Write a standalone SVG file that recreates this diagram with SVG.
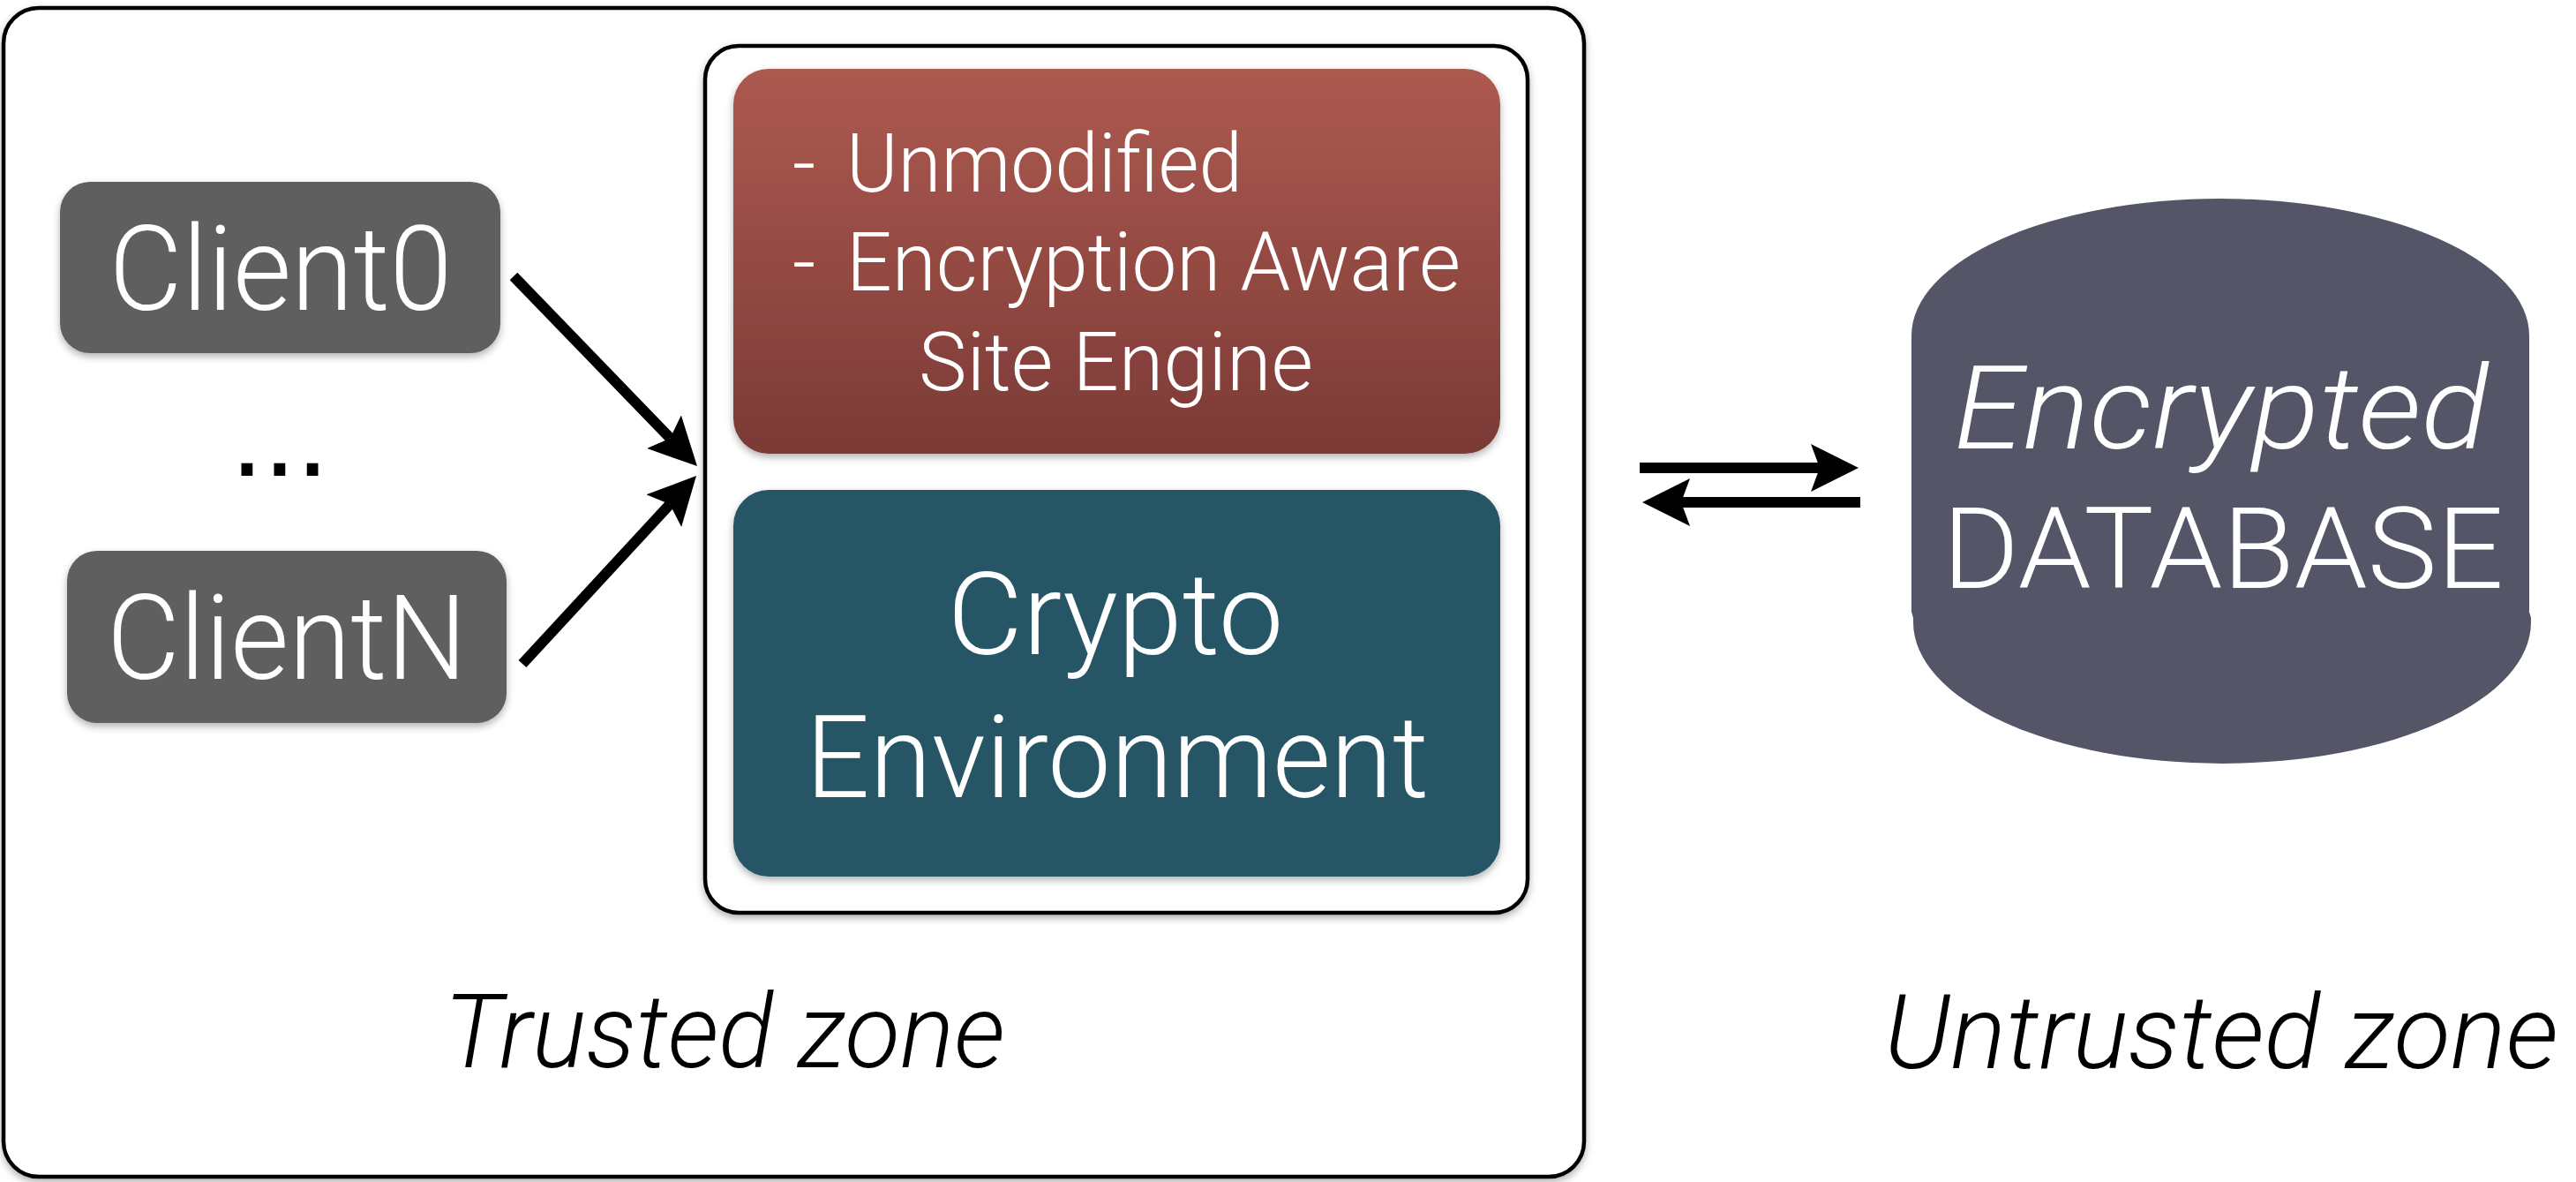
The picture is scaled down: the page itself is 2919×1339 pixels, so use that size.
<svg xmlns="http://www.w3.org/2000/svg" width="2919" height="1339" viewBox="0 0 2919 1339">
<style>
.t{font-family:Roboto,"Liberation Sans","DejaVu Sans",sans-serif;font-weight:300;}
.w{fill:#ffffff;}
.k{fill:#000000;}
.it{font-style:italic;}
.frame{fill:#ffffff;stroke:#000000;stroke-width:4.5;}
.client{fill:#5e5e5e;}
.conn{stroke:#000000;stroke-width:12;fill:none;marker-end:url(#ah);}
</style>
<defs>
<linearGradient id="redg" x1="0" y1="0" x2="0" y2="1">
<stop offset="0" stop-color="#ad5a50"/>
<stop offset="1" stop-color="#7b3a36"/>
</linearGradient>
<filter id="sh" x="-5%" y="-5%" width="110%" height="115%">
<feDropShadow dx="0" dy="4" stdDeviation="4" flood-color="#000000" flood-opacity="0.3"/>
</filter>
<marker id="ah" viewBox="0 -27 54 54" markerWidth="54" markerHeight="54" markerUnits="userSpaceOnUse" refX="10" refY="0" orient="auto">
<path d="M0,-27 L54,0 L0,27 L10,0 Z" fill="#000000"/>
</marker>
</defs>
<rect width="2919" height="1339" fill="#ffffff"/>

<g id="trusted-zone">
<rect class="frame" x="4" y="9" width="1791" height="1324" rx="40" ry="40" filter="url(#sh)"/>
<text class="t k it" x="821" y="1209" font-size="117" text-anchor="middle" textLength="636" lengthAdjust="spacingAndGlyphs">Trusted zone</text>
</g>

<g id="server">
<rect class="frame" x="799" y="52" width="932" height="982" rx="38" ry="38" filter="url(#sh)"/>
</g>

<g id="site-engine">
<rect x="831" y="78" width="869" height="436" rx="40" ry="40" fill="url(#redg)" filter="url(#sh)"/>
<text class="t w" font-size="92" y="217"><tspan x="898">- </tspan><tspan x="959" textLength="449" lengthAdjust="spacingAndGlyphs">Unmodified</tspan></text>
<text class="t w" font-size="92" y="329"><tspan x="898">- </tspan><tspan x="959" textLength="696" lengthAdjust="spacingAndGlyphs">Encryption Aware</tspan></text>
<text class="t w" font-size="92" x="1041" y="442" textLength="447" lengthAdjust="spacingAndGlyphs">Site Engine</text>
</g>

<g id="crypto-environment">
<rect x="831" y="555" width="869" height="438" rx="40" ry="40" fill="#285766" filter="url(#sh)"/>
<text class="t w" font-size="130" x="1264" y="741" text-anchor="middle" textLength="381" lengthAdjust="spacingAndGlyphs">Crypto</text>
<text class="t w" font-size="130" x="1266" y="903" text-anchor="middle" textLength="706" lengthAdjust="spacingAndGlyphs">Environment</text>
</g>

<g id="client0">
<rect class="client" x="68" y="206" width="499" height="194" rx="34" ry="34" filter="url(#sh)"/>
<text class="t w" font-size="134" x="318" y="351" text-anchor="middle" textLength="389" lengthAdjust="spacingAndGlyphs">Client0</text>
</g>

<g id="ellipsis">
<text x="317" y="539" font-family="'Liberation Sans',Arial,sans-serif" font-size="134" fill="#000000" text-anchor="middle">...</text>
</g>

<g id="clientN">
<rect class="client" x="76" y="624" width="498" height="195" rx="34" ry="34" filter="url(#sh)"/>
<text class="t w" font-size="134" x="325" y="769" text-anchor="middle" textLength="408" lengthAdjust="spacingAndGlyphs">ClientN</text>
</g>

<g id="database">
<path d="M2166,380 A350,155 0 0 1 2866,380 L2866,693 L2868,700 L2868,705 A350,160 0 0 1 2168,705 L2168,700 L2166,693 Z" fill="#555568"/>
<text class="t w it" font-size="132" x="2517" y="508" text-anchor="middle" textLength="606" lengthAdjust="spacingAndGlyphs">Encrypted</text>
<text class="t w" font-size="128" x="2519" y="666" text-anchor="middle" textLength="636" lengthAdjust="spacingAndGlyphs">DATABASE</text>
</g>

<g id="untrusted-zone">
<text class="t k it" x="2517" y="1210" font-size="117" text-anchor="middle" textLength="764" lengthAdjust="spacingAndGlyphs">Untrusted zone</text>
</g>

<g id="connectors">
<line class="conn" x1="582" y1="313" x2="759.4" y2="496.4"/>
<line class="conn" x1="592" y1="752" x2="759.1" y2="571.3"/>
<line class="conn" x1="1858" y1="530" x2="2062" y2="530"/>
<line class="conn" x1="2108" y1="569" x2="1905" y2="569"/>
</g>
</svg>
